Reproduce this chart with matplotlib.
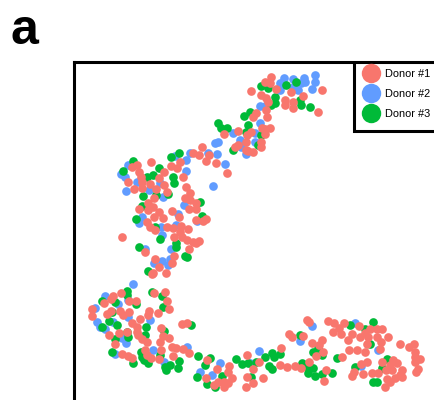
import matplotlib
matplotlib.use("Agg")
import matplotlib.pyplot as plt

plt.rcParams['font.family'] = ['Liberation Sans', 'DejaVu Sans']

labels = ["Donor #1", "Donor #2", "Donor #3"]
colors = ["#F8766D", "#619CFF", "#00BA38"]

# x and y in picture units
donor1 = [
    (271,77),(265,82),(270,83),(251,91),(276,89),(261,95),(266,98),(268,102),(291,92),(303,96),(322,90),(318,112),
    (285,100),(285,105),(293,102),(293,108),(266,110),(256,113),(253,117),(267,117),(270,128),(265,129),(262,128),
    (265,134),(251,132),(247,135),(246,142),(238,131),(224,134),(261,142),(261,147),(238,145),(235,147),(246,150),
    (253,152),(248,151),
    (202,147),(193,153),(199,155),(209,155),(206,161),(216,163),(227,173),(180,162),(171,166),(177,168),(151,162),
    (137,165),(132,167),(139,172),(141,177),(128,182),(142,182),(134,189),(142,188),(150,184),(156,189),(159,178),
    (164,172),(164,185),(167,192),(183,177),(186,187),(190,193),(185,198),(190,200),(196,203),(196,209),(189,209),
    (172,211),(179,217),(196,220),(203,221),(206,219),(154,198),(148,203),(153,207),(148,210),(139,209),(159,212),
    (154,217),(163,218),(147,222),(150,227),(155,230),(167,227),(173,228),(181,226),(188,229),(180,232),(174,237),
    (182,237),(187,240),(193,242),(199,241),(196,243),(189,249),(122,237),(145,252),(174,256),(155,259),(172,263),
    (159,267),(166,273),(152,274),
    (92,309),(92,316),(104,303),(111,299),(113,296),(121,293),(129,301),(136,301),(111,311),(107,314),(120,311),
    (123,315),(129,312),(149,311),(148,315),(154,293),(165,292),(167,301),(169,309),(158,313),(140,319),(132,323),
    (137,327),(137,332),(127,332),(119,333),(109,335),(115,344),(138,335),(142,339),(147,342),(161,328),(163,336),
    (169,338),(160,342),(182,324),(187,323),(172,347),(176,348),(161,350),(183,349),(189,353),(173,356),(122,354),
    (128,356),(132,358),(145,350),(147,355),(151,358),(159,359),(207,360),(217,369),(229,366),(228,372),(232,378),
    (206,378),(214,385),(218,382),(224,382),(224,387),(228,383),(247,355),(247,377),(246,387),(153,273),
    (307,320),(309,322),(289,334),(292,337),(303,336),(328,321),(334,323),(344,323),(359,326),(333,332),(339,328),
    (341,334),(352,334),(348,340),(360,337),(365,333),(370,329),(377,329),(382,329),(377,337),(388,337),(368,337),
    (381,342),(367,344),(380,349),(365,352),(349,350),(357,350),(312,343),(322,340),(319,345),(323,352),(316,356),
    (342,357),(400,344),(414,344),(409,347),(415,352),(415,357),(420,359),(415,362),(418,369),(416,372),(281,348),
    (280,365),(287,367),(295,366),(301,368),(309,362),(326,370),(324,381),(263,378),(253,369),(259,362),(253,383),
    (361,364),(367,362),(382,362),(393,360),(397,363),(390,365),(386,370),(392,370),(372,373),(378,373),(363,374),
    (354,372),(352,376),(402,370),(400,375),(395,378),(402,377),(387,379),(390,382),(385,387),
]
donor2 = [
    (315,75),(304,78),(315,82),(312,89),(293,79),(284,78),(280,83),(305,82),(301,83),(298,90),(293,87),(280,90),
    (260,106),(265,106),(260,123),(233,133),(240,140),(255,133),(255,142),(246,154),(241,147),(218,142),
    (215,143),(208,153),(217,154),(225,164),(190,153),(186,160),(186,171),(175,156),(213,186),(128,165),(121,174),
    (125,177),(126,191),(137,182),(160,183),(149,190),(163,197),(184,205),(178,214),(142,217),(139,223),(161,227),
    (176,225),(197,221),(162,235),(171,249),(145,249),(162,261),(154,263),(168,265),(170,259),
    (133,284),(105,296),(95,308),(118,304),(128,300),(97,322),(100,327),(113,322),(105,329),(150,320),(128,317),
    (122,338),(126,343),(153,350),(115,354),(187,347),(164,362),(200,372),(220,363),(212,375),
    (312,326),(300,341),(355,323),(378,350),(361,366),(259,351),(250,363),
]
donor3 = [
    (261,86),(286,85),(296,82),(268,88),(275,97),(275,103),(271,105),(300,100),(301,105),(310,107),(250,112),
    (244,116),(248,125),(246,132),(227,128),(221,128),(218,123),(261,135),(258,145),(233,150),
    (133,161),(123,171),(179,153),(171,157),(159,168),(153,175),(147,177),(173,177),(174,183),(168,194),(143,196),
    (156,195),(142,206),(136,219),(200,202),(202,216),(155,227),(160,239),(176,243),(176,247),(139,247),(185,256),
    (187,257),(148,271),
    (127,291),(127,295),(102,301),(115,302),(136,304),(112,312),(109,321),(102,327),(117,325),(146,327),(145,335),
    (127,332),(128,337),(115,339),(112,352),(133,363),(152,292),(162,296),(163,307),(164,331),(191,325),(141,352),
    (142,357),(144,360),(148,363),(160,355),(179,361),(170,365),(165,367),(166,370),(178,368),(198,356),(210,358),
    (205,365),(197,377),(207,384),(215,387),(222,376),(236,359),(242,364),(248,363),
    (300,335),(350,325),(365,329),(373,322),(370,344),(337,358),(313,352),(318,348),(322,355),(265,357),(272,353),
    (274,357),(280,354),(256,362),(269,366),(272,369),(302,363),(308,368),(313,368),(308,373),(315,376),(322,374),
    (332,373),(355,367),(373,382),(377,382),(382,368),(387,359),(251,377),
]

fig = plt.figure(figsize=(4.35, 4.0), dpi=100)
ax = fig.add_axes([74.5 / 435, (400 - 430) / 400, (480 - 74.5) / 435, (430 - 62) / 400])

# blue first, then green, red on top
for pts, col in [(donor2, colors[1]), (donor3, colors[2]), (donor1, colors[0])]:
    ax.scatter([p[0] for p in pts], [p[1] for p in pts], s=39, c=col, linewidths=0, zorder=3)

ax.set_xlim(74.5, 480)
ax.set_ylim(430, 62)
ax.set_xticks([])
ax.set_yticks([])
for sp in ax.spines.values():
    sp.set_linewidth(2.2)

# legend box runs off the right side of the figure
ax.add_patch(plt.Rectangle((354.5, 62), 200, 69.5, fc="white", ec="black", lw=2.2, zorder=4))

handles = [plt.Line2D([], [], ls="", marker="o", ms=14, mew=0, color=c) for c in colors]
leg = ax.legend(handles, labels, loc="upper left", bbox_to_anchor=(352.5, 61), bbox_transform=ax.transData,
                fontsize=7.9, frameon=False, borderaxespad=0, borderpad=0.72, labelspacing=0.9,
                handletextpad=0.25, handlelength=2.0)
leg.set_zorder(5)

fig.text(11 / 435, 1 - 44 / 400, "a", fontsize=36, fontweight="bold", color="black")

plt.savefig("out.png", dpi=100)
